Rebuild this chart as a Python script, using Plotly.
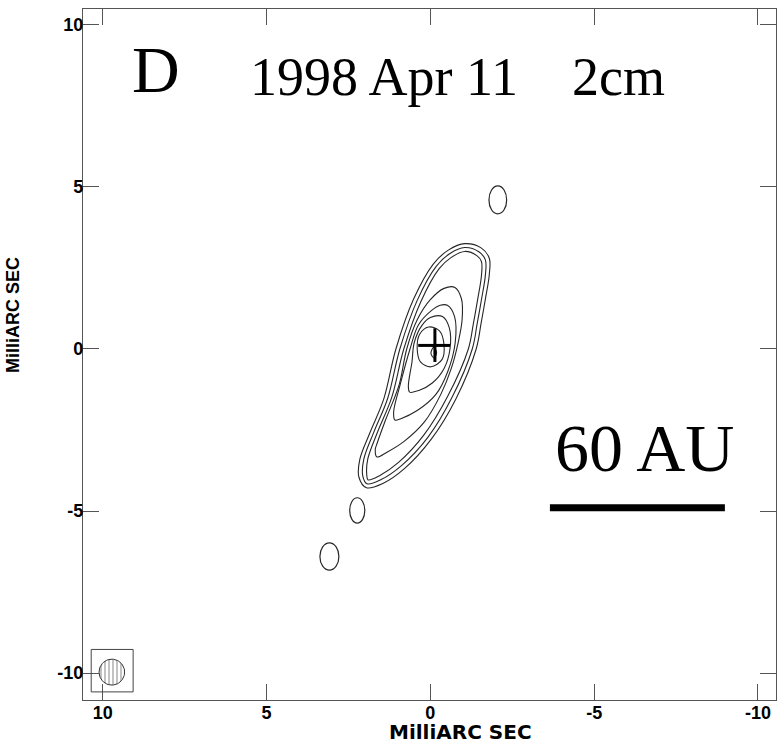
import numpy as np
import plotly.graph_objects as go

# ---------------- data (milliarcsec) ----------------
c1_x = [-1.05, -1.55, -1.80, -1.80, -1.68, -1.55, -1.40, -0.78, -0.03, 0.80, 1.45, 1.95, 2.18, 2.15, 1.85, 1.42, 1.05, 0.51, -0.09, -0.55]
c1_y = [3.25, 3.12, 2.80, 2.30, 1.54, 0.80, 0.00, -1.54, -2.78, -3.70, -4.15, -4.28, -3.95, -3.40, -2.60, -1.54, 0.00, 1.54, 2.62, 3.05]
c2_x = [-1.05, -1.48, -1.68, -1.68, -1.56, -1.43, -1.28, -0.66, 0.07, 0.88, 1.50, 1.93, 2.06, 2.03, 1.73, 1.30, 0.93, 0.40, -0.18, -0.59]
c2_y = [3.13, 3.00, 2.75, 2.28, 1.52, 0.78, 0.00, -1.50, -2.72, -3.60, -4.03, -4.16, -3.92, -3.40, -2.58, -1.52, 0.00, 1.50, 2.55, 2.94]
c3_x = [-1.05, -1.42, -1.56, -1.56, -1.44, -1.31, -1.16, -0.53, 0.20, 0.97, 1.55, 1.90, 1.94, 1.91, 1.61, 1.18, 0.81, 0.29, -0.27, -0.63]
c3_y = [3.01, 2.88, 2.70, 2.26, 1.50, 0.76, 0.00, -1.46, -2.66, -3.50, -3.91, -4.04, -3.88, -3.40, -2.56, -1.50, 0.00, 1.46, 2.48, 2.82]
c4_x = [-0.75, -0.95, -0.97, -0.85, -0.64, -0.32, 0.18, 0.80, 1.35, 1.63, 1.68, 1.62, 1.37, 0.95, 0.72, 0.40, 0.00, -0.42]
c4_y = [1.90, 1.55, 0.90, 0.20, -0.60, -1.40, -2.25, -2.85, -3.20, -3.33, -3.10, -2.90, -2.20, -1.10, 0.00, 0.90, 1.52, 1.87]
c5_x = [-0.52, -0.74, -0.76, -0.53, -0.17, 0.40, 0.90, 1.08, 1.12, 0.92, 0.62, 0.36, -0.05, -0.30]
c5_y = [1.35, 1.00, 0.20, -0.70, -1.40, -1.90, -2.15, -2.19, -1.95, -1.10, 0.00, 0.75, 1.20, 1.35]
c6_x = [-0.37, -0.58, -0.60, -0.42, -0.06, 0.35, 0.63, 0.67, 0.56, 0.49, 0.26, 0.00]
c6_y = [1.00, 0.65, 0.00, -0.60, -1.05, -1.28, -1.33, -1.15, -0.40, 0.20, 0.72, 0.97]
c7_x = [0.05, -0.28, -0.42, -0.36, -0.02, 0.30, 0.40, 0.33]
c7_y = [0.68, 0.56, 0.10, -0.32, -0.55, -0.40, 0.00, 0.45]
c8_x = [-0.10, -0.19, -0.12, -0.02]
c8_y = [0.05, -0.10, -0.28, -0.14]
contours = [(c1_x, c1_y), (c2_x, c2_y), (c3_x, c3_y), (c4_x, c4_y),
            (c5_x, c5_y), (c6_x, c6_y), (c7_x, c7_y), (c8_x, c8_y)]

# isolated weak components: centre x, centre y, half-width, half-height
blob_x = [-2.06, 2.23, 3.08]
blob_y = [4.60, -4.98, -6.40]
blob_hw = [0.27, 0.23, 0.29]
blob_hh = [0.43, 0.39, 0.42]

# peak position marker (cross)
cross_h_x = [0.37, -0.60]
cross_h_y = [0.11, 0.11]
cross_v_x = [-0.14, -0.14]
cross_v_y = [0.64, -0.40]

# restoring beam: centre, half-axes; beam box corners
beam_cx, beam_cy, beam_rx, beam_ry = 9.72, -9.97, 0.39, 0.40
beam_box_x = [10.35, 9.07]
beam_box_y = [-10.58, -9.27]

# 60 AU scale bar
bar_x = [-3.65, -8.99]
bar_y = [-4.90, -4.90]

tick_vals = [10, 5, 0, -5, -10]
tick_text = ["10", "5", "0", "-5", "-10"]
x_range = [10.6, -10.55]
y_range = [-10.83, 10.49]

# ---------------- figure ----------------
fig = go.Figure()
line_col = "#262626"
for cx, cy in contours:
    fig.add_trace(go.Scatter(x=cx + [cx[0]], y=cy + [cy[0]], mode="lines",
                             line=dict(color=line_col, width=1.1, shape="spline", smoothing=1.0),
                             hoverinfo="skip"))

for bx, by, hw, hh in zip(blob_x, blob_y, blob_hw, blob_hh):
    fig.add_shape(type="circle", xref="x", yref="y", x0=bx - hw, x1=bx + hw,
                  y0=by - hh, y1=by + hh, line=dict(color=line_col, width=1.2))

fig.add_trace(go.Scatter(x=cross_h_x, y=cross_h_y, mode="lines",
                         line=dict(color="black", width=3), hoverinfo="skip"))
fig.add_trace(go.Scatter(x=cross_v_x, y=cross_v_y, mode="lines",
                         line=dict(color="black", width=3), hoverinfo="skip"))

# beam
t = np.linspace(0, 2 * np.pi, 60)
fig.add_trace(go.Scatter(x=beam_cx + beam_rx * np.cos(t), y=beam_cy + beam_ry * np.sin(t),
                         mode="lines", fill="toself", fillcolor="white",
                         fillpattern=dict(shape="|", size=4, solidity=0.3, fgcolor="#333333", bgcolor="white"),
                         line=dict(color="#333333", width=1), hoverinfo="skip"))
fig.add_shape(type="rect", xref="x", yref="y", x0=beam_box_x[0], x1=beam_box_x[1],
              y0=beam_box_y[0], y1=beam_box_y[1], line=dict(color="#444444", width=1))

# scale bar
fig.add_shape(type="line", xref="x", yref="y", x0=bar_x[0], x1=bar_x[1], y0=bar_y[0], y1=bar_y[1],
              line=dict(color="black", width=7))

serif = "Liberation Serif, Times New Roman, serif"
fig.add_annotation(x=8.38, y=8.62, xref="x", yref="y", text="D", showarrow=False,
                   font=dict(family=serif, size=66, color="black"), xanchor="center", yanchor="middle")
fig.add_annotation(x=-0.82, y=8.40, xref="x", yref="y", text="1998 Apr 11\u00a0\u00a0\u00a0 2cm", showarrow=False,
                   font=dict(family=serif, size=54, color="black"), xanchor="center", yanchor="middle")
fig.add_annotation(x=-6.55, y=-3.05, xref="x", yref="y", text="60 AU", showarrow=False,
                   font=dict(family=serif, size=68, color="black"), xanchor="center", yanchor="middle")

# axis titles (page pixel positions converted to plot-area fractions)
PL, PT, PW, PH = 83, 9, 693, 691
fig.add_annotation(x=(460 - PL) / PW, y=(PT + PH - 732) / PH, xref="paper", yref="paper",
                   text="<b>MilliARC SEC</b>", showarrow=False,
                   font=dict(family="DejaVu Sans", size=20, color="black"),
                   xanchor="center", yanchor="middle")
fig.add_annotation(x=(13 - PL) / PW, y=(PT + PH - 315) / PH, xref="paper", yref="paper",
                   text="<b>MilliARC SEC</b>", textangle=-90, showarrow=False,
                   font=dict(family="Liberation Sans, Arial", size=18, color="black"),
                   xanchor="center", yanchor="middle")

axis_common = dict(showgrid=False, zeroline=False, showline=True, mirror="ticks",
                   linecolor="#555555", linewidth=1.2, ticks="inside", ticklen=16,
                   tickwidth=1, tickcolor="#555555", tickvals=tick_vals, ticktext=tick_text,
                   tickfont=dict(family="Liberation Sans, Arial", size=18, color="black", weight="bold"),
                   automargin=False)
fig.update_xaxes(range=x_range, ticklabelstandoff=-4, **axis_common)
fig.update_yaxes(range=y_range, ticklabelstandoff=-5, **axis_common)

W, H = 778, 744
fig.update_layout(width=W, height=H, margin=dict(l=PL, r=W - PL - PW, t=PT, b=H - PT - PH),
                  plot_bgcolor="white", paper_bgcolor="white", showlegend=False)

# remove the default 8 px page margin so the figure fills the window exactly
fig.write_html("out.html", config={"displayModeBar": False},
               post_script="document.body.style.margin='0px';document.body.style.overflow='hidden';")
